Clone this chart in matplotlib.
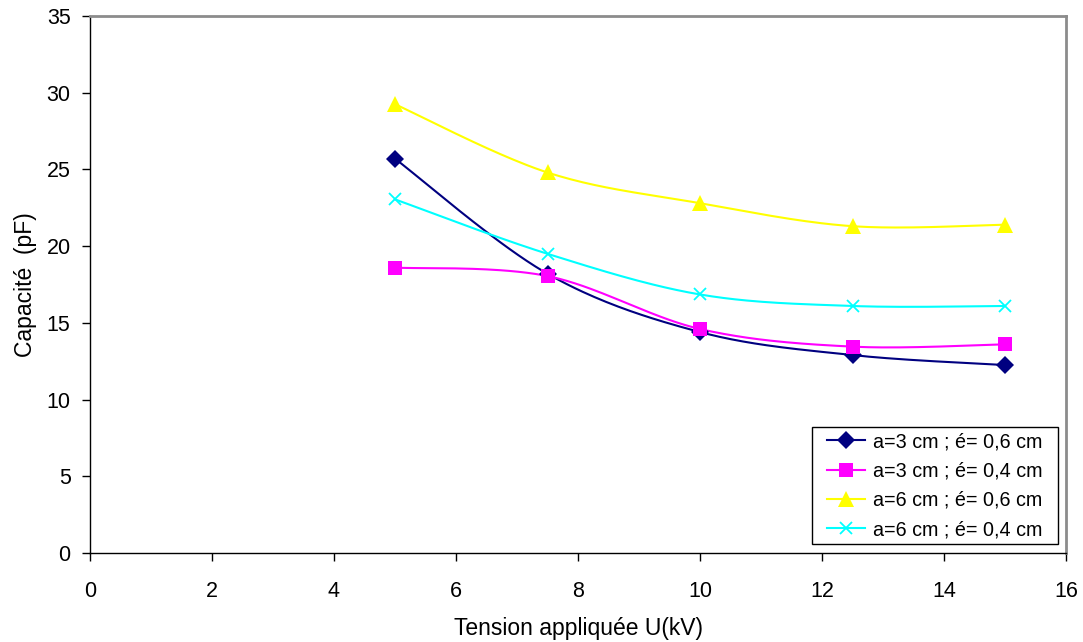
import numpy as np
import matplotlib
matplotlib.use("Agg")
import matplotlib.pyplot as plt
from matplotlib.patches import Rectangle

plt.rcParams['font.family'] = ['Liberation Sans', 'DejaVu Sans']

tension_kv = [5, 7.5, 10, 12.5, 15]
cap_a3_e06 = [25.7, 18.2, 14.4, 12.9, 12.25]
cap_a3_e04 = [18.6, 18.05, 14.6, 13.45, 13.6]
cap_a6_e06 = [29.25, 24.8, 22.8, 21.3, 21.4]
cap_a6_e04 = [23.05, 19.5, 16.85, 16.1, 16.1]
series_labels = ["a=3 cm ; é= 0,6 cm", "a=3 cm ; é= 0,4 cm",
                 "a=6 cm ; é= 0,6 cm", "a=6 cm ; é= 0,4 cm"]
x_ticks = [0, 2, 4, 6, 8, 10, 12, 14, 16]
y_ticks = [0, 5, 10, 15, 20, 25, 30, 35]


def smooth(xs, ys, n=40):
    """Bezier smoothing through every point (spreadsheet-style smoothed line)."""
    p = np.column_stack([xs, ys]).astype(float)
    pts = np.vstack([p[0], p, p[-1]])
    out = []
    t = np.linspace(0, 1, n)[:, None]
    for i in range(1, len(pts) - 2):
        p0, p1, p2, p3 = pts[i - 1], pts[i], pts[i + 1], pts[i + 2]
        c1 = p1 + (p2 - p0) / 6.0
        c2 = p2 - (p3 - p1) / 6.0
        seg = ((1 - t) ** 3) * p1 + 3 * ((1 - t) ** 2) * t * c1 + 3 * (1 - t) * t ** 2 * c2 + t ** 3 * p2
        out.append(seg if i == 1 else seg[1:])
    seg = np.vstack(out)
    return seg[:, 0], seg[:, 1]


fig = plt.figure(figsize=(10.83, 6.42), dpi=100)
ax = fig.add_axes([90 / 1083, 1 - 553 / 642, 976 / 1083, 537 / 642])

styles = [
    dict(color="#000080", marker="D", ms=9, mew=0),
    dict(color="#FF00FF", marker="s", ms=10, mew=0),
    dict(color="#FFFF00", marker="^", ms=11, mew=0),
    dict(color="#00FFFF", marker="x", ms=8, mew=1.3),
]
series = [cap_a3_e06, cap_a3_e04, cap_a6_e06, cap_a6_e04]

handles = []
for ys, st, lab in zip(series, styles, series_labels):
    sx, sy = smooth(tension_kv, ys)
    ax.plot(sx, sy, color=st["color"], lw=1.5, zorder=2)
    ax.plot(tension_kv, ys, ls="none", marker=st["marker"], ms=st["ms"],
            mfc=st["color"], mec=st["color"], mew=st["mew"], zorder=3)
    h, = ax.plot([], [], color=st["color"], lw=1.5, marker=st["marker"], ms=st["ms"],
                 mfc=st["color"], mec=st["color"], mew=st["mew"], label=lab)
    handles.append(h)

ax.set_xlim(0, 16)
ax.set_ylim(0, 35)
ax.set_xticks(x_ticks)
ax.set_yticks(y_ticks)
ax.tick_params(direction="out", length=6, width=1, labelsize=15.5, color="black")
ax.tick_params(axis="x", pad=14)
ax.tick_params(axis="y", pad=8)
for s in ("left", "bottom"):
    ax.spines[s].set_color("black")
    ax.spines[s].set_linewidth(1)
for s in ("top", "right"):
    ax.spines[s].set_color("#8c8c8c")
    ax.spines[s].set_linewidth(2)

ax.set_xlabel("Tension appliquée U(kV)", fontsize=16.5, labelpad=11)
ax.set_ylabel("Capacité  (pF)", fontsize=16.5, labelpad=7)

# legend entries without a frame; a separate box with wider side margins
leg = ax.legend(handles=handles, loc="lower right", bbox_to_anchor=(0.9764, 0.026),
                fontsize=14.2, frameon=False, handlelength=1.9, borderpad=0,
                labelspacing=0.52, handletextpad=0.45, borderaxespad=0)
fig.canvas.draw()
bb = leg.get_window_extent(fig.canvas.get_renderer())
px, py = 15, 5
box = Rectangle((bb.x0 - px, bb.y0 - py), bb.width + 2 * px, bb.height + 2 * py,
                transform=None, facecolor="white", edgecolor="black", lw=1, zorder=4)
fig.add_artist(box)
leg.set_zorder(5)
leg.remove()
fig.add_artist(leg)

fig.savefig("out.png", dpi=100, facecolor="white")
